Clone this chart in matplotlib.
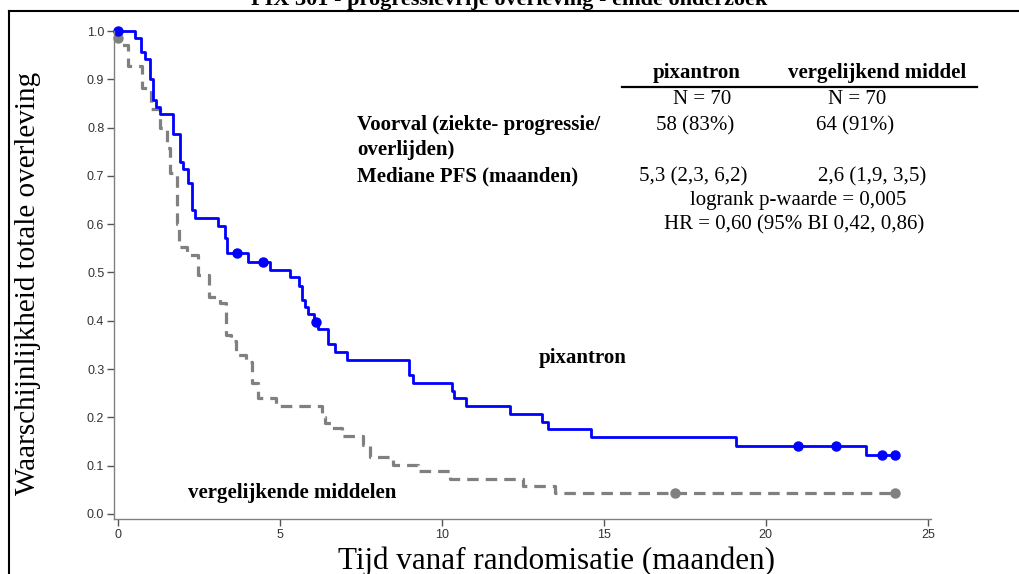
import matplotlib
matplotlib.use("Agg")
import matplotlib.pyplot as plt
from matplotlib.lines import Line2D

# Kaplan-Meier read-off: time (months) where a step starts, level from there on
pix_time = [0, 0.52, 0.71, 0.83, 1.01, 1.09, 1.19, 1.32, 1.71, 1.91, 2.02, 2.18, 2.30, 2.39,
            3.10, 3.32, 3.38, 4.02, 4.69, 5.31, 5.60, 5.69, 5.79, 5.87, 6.05, 6.17, 6.49,
            6.72, 7.09, 8.99, 9.10, 10.32, 10.38, 10.76, 12.10, 13.10, 13.28, 14.62, 19.09,
            23.09, 24.0]
pix_surv = [1.0, 0.986, 0.957, 0.943, 0.900, 0.857, 0.843, 0.829, 0.786, 0.729, 0.714, 0.686,
            0.629, 0.612, 0.597, 0.571, 0.540, 0.521, 0.506, 0.490, 0.472, 0.443, 0.428, 0.413,
            0.397, 0.382, 0.351, 0.335, 0.319, 0.287, 0.271, 0.255, 0.239, 0.223, 0.207, 0.191,
            0.176, 0.159, 0.141, 0.121, 0.121]
pix_cens_t = [0.0, 3.69, 4.49, 6.12, 21.0, 22.18, 23.59, 24.0]
pix_cens_s = [1.0, 0.540, 0.521, 0.397, 0.141, 0.141, 0.121, 0.121]

ver_time = [0, 0.01, 0.08, 0.33, 0.76, 1.02, 1.30, 1.52, 1.60, 1.82, 1.88, 2.14, 2.48, 2.81,
            3.15, 3.35, 3.50, 3.64, 3.95, 4.13, 4.33, 4.88, 6.29, 6.40, 6.60, 6.92, 7.57, 7.78,
            8.50, 9.27, 10.25, 12.50, 13.50, 24.0]
ver_surv = [1.0, 0.986, 0.971, 0.927, 0.882, 0.838, 0.800, 0.757, 0.706, 0.600, 0.553, 0.536,
            0.495, 0.450, 0.437, 0.371, 0.358, 0.329, 0.314, 0.271, 0.240, 0.224, 0.200, 0.188,
            0.177, 0.162, 0.143, 0.118, 0.102, 0.088, 0.073, 0.058, 0.044, 0.044]
ver_cens_t = [0.02, 17.19, 24.0]
ver_cens_s = [0.986, 0.044, 0.044]

x_ticks = [0, 5, 10, 15, 20, 25]
y_ticks = [0.0, 0.1, 0.2, 0.3, 0.4, 0.5, 0.6, 0.7, 0.8, 0.9, 1.0]

W, H = 1019, 574
SERIF = "Liberation Serif"
BLUE = "#0000ff"
GREY = "#808080"


def fx(px):
    return px / W


def fy(py):
    return 1 - py / H


fig = plt.figure(figsize=(W / 100, H / 100), dpi=100)
ax = fig.add_axes([fx(114), fy(519), fx(931) - fx(114), fy(31) - fy(519)])

ax.step(ver_time, ver_surv, where="post", color=GREY, lw=2.3, dashes=(3.6, 2.2), clip_on=False)
ax.plot(ver_cens_t, ver_cens_s, "o", color=GREY, ms=6.5, clip_on=False)
ax.step(pix_time, pix_surv, where="post", color=BLUE, lw=2.0, clip_on=False)
ax.plot(pix_cens_t, pix_cens_s, "o", color=BLUE, ms=6.5, clip_on=False)

ax.set_xlim(-0.114, 25.1)
ax.set_ylim(-0.0106, 1.0)
ax.set_xticks(x_ticks)
ax.set_yticks(y_ticks)
ax.set_yticklabels(["%.1f" % v for v in y_ticks])
for s in ["top", "right"]:
    ax.spines[s].set_visible(False)
for s in ["left", "bottom"]:
    ax.spines[s].set_color(GREY)
    ax.spines[s].set_linewidth(1.0)
ax.tick_params(direction="out", length=5, width=1, color="#555555", labelcolor="#333333",
               labelsize=9, pad=2)
for lab in ax.get_xticklabels() + ax.get_yticklabels():
    lab.set_family("Liberation Sans")

# outer frame, cut off at right and bottom
fig.add_artist(Line2D([fx(9), 1], [fy(11), fy(11)], color="black", lw=1.5))
fig.add_artist(Line2D([fx(9), fx(9)], [fy(11), 0], color="black", lw=1.5))

fig.text(fx(509), fy(4.5), "PIX 301 - progressievrije overleving - einde onderzoek",
         ha="center", va="baseline", fontsize=16, fontweight="bold", family=SERIF)
fig.text(fx(557), fy(569), "Tijd vanaf randomisatie (maanden)", ha="center", va="baseline",
         fontsize=22.4, family=SERIF)
fig.text(fx(28), fy(283), "Waarschijnlijkheid totale overleving", ha="center", va="center",
         rotation=90, fontsize=21, family=SERIF)

fig.text(fx(583), fy(363), "pixantron", ha="center", va="baseline", fontsize=15,
         fontweight="bold", family=SERIF)
fig.text(fx(292), fy(498), "vergelijkende middelen", ha="center", va="baseline", fontsize=15,
         fontweight="bold", family=SERIF)

# summary table
fig.text(fx(697), fy(78), "pixantron", ha="center", va="baseline", fontsize=15,
         fontweight="bold", family=SERIF)
fig.text(fx(877), fy(78), "vergelijkend middel", ha="center", va="baseline", fontsize=15,
         fontweight="bold", family=SERIF)
fig.add_artist(Line2D([fx(622), fx(977)], [fy(86.5), fy(86.5)], color="black", lw=1.6))
fig.text(fx(702), fy(104), "N = 70", ha="center", va="baseline", fontsize=15, family=SERIF)
fig.text(fx(857), fy(104), "N = 70", ha="center", va="baseline", fontsize=15, family=SERIF)
fig.text(fx(357), fy(130), "Voorval (ziekte- progressie/", ha="left", va="baseline",
         fontsize=15, fontweight="bold", family=SERIF)
fig.text(fx(357), fy(155), "overlijden)", ha="left", va="baseline", fontsize=15,
         fontweight="bold", family=SERIF)
fig.text(fx(695), fy(130), "58 (83%)", ha="center", va="baseline", fontsize=15, family=SERIF)
fig.text(fx(855), fy(130), "64 (91%)", ha="center", va="baseline", fontsize=15, family=SERIF)
fig.text(fx(357), fy(181), "Mediane PFS (maanden)", ha="left", va="baseline", fontsize=15,
         fontweight="bold", family=SERIF)
fig.text(fx(693), fy(181), "5,3 (2,3, 6,2)", ha="center", va="baseline", fontsize=15,
         family=SERIF)
fig.text(fx(872), fy(181), "2,6 (1,9, 3,5)", ha="center", va="baseline", fontsize=15,
         family=SERIF)
fig.text(fx(798), fy(205), "logrank p-waarde = 0,005", ha="center", va="baseline",
         fontsize=15, family=SERIF)
fig.text(fx(794), fy(229), "HR = 0,60 (95% BI 0,42, 0,86)", ha="center", va="baseline",
         fontsize=15, family=SERIF)

fig.savefig("out.png", dpi=100)
